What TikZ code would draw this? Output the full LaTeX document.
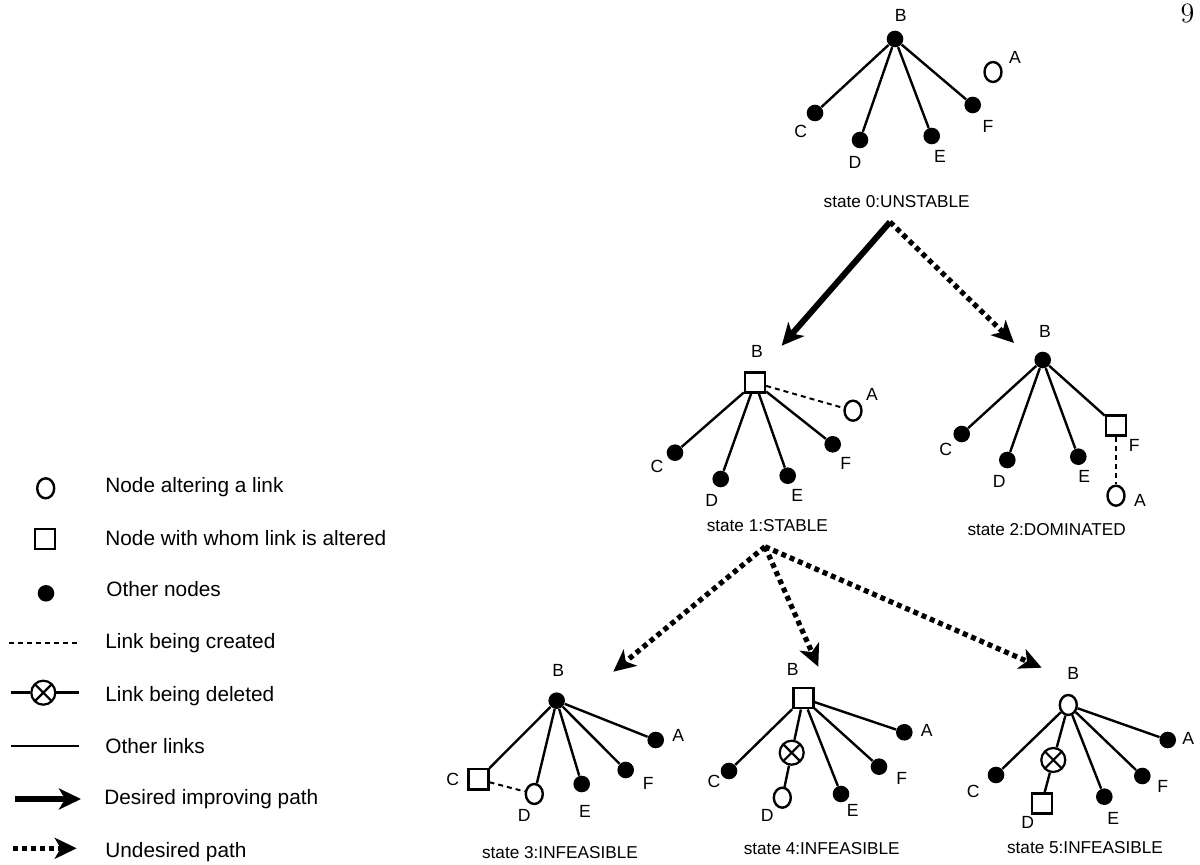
\documentclass[tikz,border=0pt]{standalone}
\usepackage{fontspec}
\newfontfamily\arial{Liberation Sans}
\usetikzlibrary{arrows.meta,shapes.geometric}
\tikzset{
  dotn/.style={circle,fill=black,draw=none,inner sep=0pt,minimum size=8.3pt},
  sqn/.style={rectangle,draw,line width=1.2pt,fill=white,inner sep=0pt,minimum size=10pt},
  altn/.style={ellipse,draw,line width=1.2pt,fill=white,inner sep=0pt,minimum width=8.5pt,minimum height=10pt},
  deln/.style={circle,draw,line width=1.1pt,fill=white,inner sep=0pt,minimum size=12pt,
    path picture={\draw[line width=1.1pt] (path picture bounding box.north west) -- (path picture bounding box.south east)
      (path picture bounding box.north east) -- (path picture bounding box.south west);}},
  lnk/.style={line width=1.2pt},
  crt/.style={line width=1pt,dash pattern=on 2.5pt off 2pt},
  goodarr/.style={line width=3pt,-{Stealth[length=11pt,width=10.5pt,inset=3pt]}},
  badarr/.style={line width=2.6pt,dash pattern=on 2.5pt off 2pt,-{Stealth[length=11pt,width=10.5pt,inset=3pt]}},
  lbl/.style={font=\arial\fontsize{8.8}{10}\selectfont,inner sep=0pt},
  stl/.style={font=\arial\fontsize{8.6}{10}\selectfont,inner sep=0pt},
  leg/.style={font=\arial\fontsize{10.4}{12}\selectfont,inner sep=0pt,anchor=base west},
}
\begin{document}
\begin{tikzpicture}[x=0.5pt,y=-0.5pt]
\useasboundingbox (0,0) rectangle (1200,865);
\node (pg) at (1187.5,13.5) {\fontsize{14}{14}\selectfont 9};

% ---------- state 0
\node[dotn] (s0B) at (895,39) {};
\node[dotn] (s0C) at (815,113) {};
\node[dotn] (s0D) at (860,140) {};
\node[dotn] (s0E) at (931.7,136) {};
\node[dotn] (s0F) at (972.7,105) {};
\node[altn] (s0A) at (993,72) {};
\draw[lnk] (s0B) -- (s0C) (s0B) -- (s0D) (s0B) -- (s0E) (s0B) -- (s0F);
\node[lbl] (l0B) at (900.7,15) {B};
\node[lbl] (l0C) at (800.7,131) {C};
\node[lbl] (l0D) at (855,162) {D};
\node[lbl] (l0E) at (940,156) {E};
\node[lbl] (l0F) at (988,126) {F};
\node[lbl] (l0A) at (1015,57) {A};
\node[stl] (t0) at (896.7,201.7) {state 0:UNSTABLE};

% arrows from state 0
\coordinate (a0) at (890,222);
\coordinate (a1) at (781.7,345.7);
\coordinate (a2) at (1014,343);
\draw[goodarr] (a0) -- (a1);
\draw[badarr] (a0) -- (a2);

% ---------- state 1
\node[sqn] (s1B) at (755,382.7) {};
\node[altn] (s1A) at (853,410.7) {};
\node[dotn] (s1C) at (675,452.7) {};
\node[dotn] (s1D) at (720.7,479) {};
\node[dotn] (s1E) at (787.7,475.7) {};
\node[dotn] (s1F) at (832.7,444.3) {};
\draw[lnk] (s1B) -- (s1C) (s1B) -- (s1D) (s1B) -- (s1E) (s1B) -- (s1F);
\draw[crt] (s1B) -- (s1A);
\node[lbl] (l1B) at (757,351.7) {B};
\node[lbl] (l1A) at (872,394) {A};
\node[lbl] (l1C) at (657,466.7) {C};
\node[lbl] (l1D) at (711.7,500) {D};
\node[lbl] (l1E) at (797.3,495.7) {E};
\node[lbl] (l1F) at (845.7,463.3) {F};
\node[stl] (t1) at (767.3,526) {state 1:STABLE};

% ---------- state 2
\node[dotn] (s2B) at (1042.7,360) {};
\node[dotn] (s2C) at (961.7,434) {};
\node[dotn] (s2D) at (1007.3,460) {};
\node[dotn] (s2E) at (1078.3,456.7) {};
\node[sqn] (s2F) at (1116,425.7) {};
\node[altn] (s2A) at (1116,495.7) {};
\draw[lnk] (s2B) -- (s2C) (s2B) -- (s2D) (s2B) -- (s2E) (s2B) -- (s2F);
\draw[crt] (s2F) -- (s2A);
\node[lbl] (l2B) at (1045,331) {B};
\node[lbl] (l2C) at (945.7,449) {C};
\node[lbl] (l2D) at (999.3,481.7) {D};
\node[lbl] (l2E) at (1084.3,476) {E};
\node[lbl] (l2F) at (1134.3,445) {F};
\node[lbl] (l2A) at (1140,500) {A};
\node[stl] (t2) at (1046.7,530) {state 2:DOMINATED};

% arrows from state 1
\coordinate (b0) at (765,546.7);
\coordinate (b3) at (613.3,671.7);
\coordinate (b4) at (818.3,666.7);
\coordinate (b5) at (1041.7,667.7);
\draw[badarr] (b0) -- (b3);
\draw[badarr] (b0) -- (b4);
\draw[badarr] (b0) -- (b5);

% ---------- state 3
\node[dotn] (s3B) at (556.7,700.7) {};
\node[dotn] (s3A) at (655.7,740) {};
\node[dotn] (s3F) at (625.7,770) {};
\node[dotn] (s3E) at (581.7,784) {};
\node[altn] (s3D) at (534.3,794) {};
\node[sqn] (s3C) at (478.3,779.3) {};
\draw[lnk] (s3B) -- (s3C) (s3B) -- (s3D) (s3B) -- (s3E) (s3B) -- (s3F) (s3B) -- (s3A);
\draw[crt] (s3C) -- (s3D);
\node[lbl] (l3B) at (558.3,670) {B};
\node[lbl] (l3A) at (678.3,735) {A};
\node[lbl] (l3F) at (648.3,783.3) {F};
\node[lbl] (l3E) at (585,811.7) {E};
\node[lbl] (l3D) at (524.3,815.7) {D};
\node[lbl] (l3C) at (452.7,779.3) {C};
\node[stl] (t3) at (560,852.7) {state 3:INFEASIBLE};

% ---------- state 4
\node[sqn] (s4B) at (803.3,698.3) {};
\node[dotn] (s4A) at (904.3,732.3) {};
\node[dotn] (s4F) at (879,766.7) {};
\node[dotn] (s4E) at (841,794) {};
\node[dotn] (s4C) at (729,771) {};
\node[deln] (s4X) at (791.7,752.7) {};
\node[altn] (s4D) at (782.3,797.7) {};
\draw[lnk] (s4B) -- (s4C) (s4B) -- (s4X) (s4X) -- (s4D) (s4B) -- (s4E) (s4B) -- (s4F) (s4B) -- (s4A);
\node[lbl] (l4B) at (792.7,669.3) {B};
\node[lbl] (l4A) at (926.7,730) {A};
\node[lbl] (l4F) at (901.7,778.3) {F};
\node[lbl] (l4E) at (852.7,810) {E};
\node[lbl] (l4C) at (714,781.7) {C};
\node[lbl] (l4D) at (767.3,815) {D};
\node[stl] (t4) at (821.7,848.3) {state 4:INFEASIBLE};

% ---------- state 5
\node[altn] (s5B) at (1068.3,705) {};
\node[dotn] (s5A) at (1167.7,740) {};
\node[dotn] (s5F) at (1142.3,776) {};
\node[dotn] (s5E) at (1104.3,796.7) {};
\node[dotn] (s5C) at (996,775) {};
\node[deln] (s5X) at (1053.3,760) {};
\node[sqn] (s5D) at (1041.7,803.3) {};
\draw[lnk] (s5B) -- (s5C) (s5B) -- (s5X) (s5X) -- (s5D) (s5B) -- (s5E) (s5B) -- (s5F) (s5B) -- (s5A);
\node[lbl] (l5B) at (1073.3,673.3) {B};
\node[lbl] (l5A) at (1188.3,738.3) {A};
\node[lbl] (l5F) at (1162.7,786.7) {F};
\node[lbl] (l5E) at (1113.3,818.3) {E};
\node[lbl] (l5C) at (973.3,791) {C};
\node[lbl] (l5D) at (1027.7,822.7) {D};
\node[stl] (t5) at (1085,847.3) {state 5:INFEASIBLE};

% ---------- legend
\node[altn] (kA) at (45.7,488.3) {};
\node[leg] (kAt) at (105,492.3) {Node altering a link};
\node[sqn] (kS) at (45,539.3) {};
\node[leg] (kSt) at (105,545.7) {Node with whom link is altered};
\node[dotn] (kD) at (46,593.3) {};
\node[leg] (kDt) at (106,596.7) {Other nodes};
\coordinate (kc1) at (9.3,642.7);
\coordinate (kc2) at (78.3,642.7);
\draw[crt] (kc1) -- (kc2);
\node[leg] (kct) at (105,648.3) {Link being created};
\coordinate (kx1) at (10.7,692.7);
\coordinate (kx2) at (79,692.7);
\node[deln] (kX) at (43.3,692.7) {};
\draw[lnk] (kx1) -- (kX) -- (kx2);
\node[leg] (kxt) at (105,701.7) {Link being deleted};
\coordinate (ko1) at (10.7,746);
\coordinate (ko2) at (79,746);
\draw[lnk] (ko1) -- (ko2);
\node[leg] (kot) at (105,753.3) {Other links};
\coordinate (kg1) at (15,799);
\coordinate (kg2) at (81,799);
\draw[goodarr] (kg1) -- (kg2);
\node[leg] (kgt) at (104,805) {Desired improving path};
\coordinate (ku1) at (13,848.3);
\coordinate (ku2) at (76.7,848.3);
\draw[badarr] (ku1) -- (ku2);
\node[leg] (kut) at (105,857.3) {Undesired path};
\end{tikzpicture}
\end{document}
